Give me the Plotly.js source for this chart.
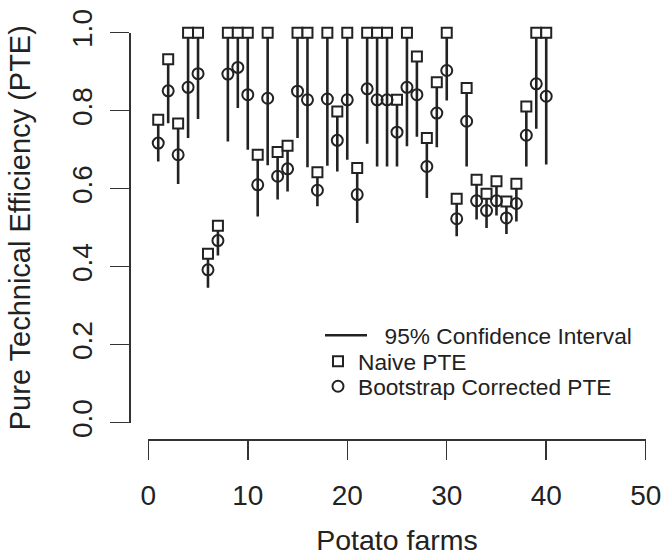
<!DOCTYPE html>
<html>
<head>
<meta charset="utf-8">
<script src="https://cdn.plot.ly/plotly-3.0.1.min.js"></script>
<style>html,body{margin:0;padding:0;background:#fff;}#chart{width:662px;height:556px;}</style>
</head>
<body>
<div id="chart"></div>
<script>
// ---- data ----
var farms = [1,2,3,4,5,6,7,8,9,10,11,12,13,14,15,16,17,18,19,20,21,22,23,24,25,26,27,28,29,30,31,32,33,34,35,36,37,38,39,40];
var naivePTE = [0.777,0.932,0.767,1.000,1.000,0.433,0.505,1.000,1.000,1.000,0.687,1.000,0.694,0.710,1.000,1.000,0.642,1.000,0.798,1.000,0.653,1.000,1.000,1.000,0.828,1.000,0.939,0.730,0.873,1.000,0.574,0.858,0.623,0.587,0.619,0.567,0.613,0.811,1.000,1.000];
var bootPTE = [0.717,0.851,0.687,0.860,0.895,0.392,0.467,0.894,0.911,0.841,0.610,0.832,0.632,0.651,0.850,0.828,0.596,0.830,0.724,0.828,0.585,0.856,0.828,0.828,0.745,0.860,0.841,0.657,0.794,0.903,0.523,0.773,0.569,0.544,0.569,0.525,0.562,0.737,0.869,0.837];
var ciLower = [0.670,0.768,0.612,0.730,0.779,0.346,0.429,0.721,0.807,0.700,0.529,0.660,0.572,0.593,0.730,0.655,0.555,0.659,0.644,0.674,0.512,0.715,0.657,0.657,0.657,0.709,0.733,0.576,0.706,0.826,0.478,0.657,0.521,0.499,0.531,0.484,0.516,0.657,0.754,0.662];
var ciUpper = naivePTE;
var xTicks = [0,10,20,30,40,50];
var yTicks = [0,0.2,0.4,0.6,0.8,1.0];
var seriesNames = ['95% Confidence Interval', 'Naive PTE', 'Bootstrap Corrected PTE'];

// build vertical CI segments
var ciX = [], ciY = [];
for (var i = 0; i < farms.length; i++) {
  ciX.push(farms[i], farms[i], null);
  ciY.push(ciLower[i], ciUpper[i], null);
}

var ink = '#222';
var fontFam = '"Liberation Sans", Arial, sans-serif';
var pad = '\u00a0\u00a0';

var traces = [
  {x: ciX, y: ciY, type: 'scatter', mode: 'lines', name: pad + seriesNames[0], legend: 'legend',
   line: {color: ink, width: 2.6}, cliponaxis: false, hoverinfo: 'skip'},
  {x: farms, y: naivePTE, type: 'scatter', mode: 'markers', name: seriesNames[1], legend: 'legend2',
   marker: {symbol: 'square', size: 10, color: '#fff', line: {color: ink, width: 2}}, cliponaxis: false},
  {x: farms, y: bootPTE, type: 'scatter', mode: 'markers', name: seriesNames[2], legend: 'legend3',
   marker: {symbol: 'circle-open', size: 11, color: ink, line: {color: ink, width: 2}}, cliponaxis: false}
];

var axisCommon = {
  showgrid: false, zeroline: false, showline: true, linecolor: '#333', linewidth: 1.5,
  ticks: 'outside', ticklen: 19, tickwidth: 1.5, tickcolor: '#333',
  tickfont: {family: fontFam, size: 28, color: ink}, fixedrange: true
};

function legendAt(xLeft, yTop, itemW) {
  return {x: xLeft/662, y: yTop, xanchor: 'left', yanchor: 'top', bgcolor: 'rgba(0,0,0,0)',
          font: {family: fontFam, size: 22.7, color: ink}, itemwidth: itemW};
}

var layout = {
  width: 662, height: 556,
  margin: {l: 0, r: 0, t: 0, b: 0},
  paper_bgcolor: '#fff', plot_bgcolor: '#fff',
  font: {family: fontFam, color: ink},
  showlegend: true,
  legend: legendAt(320, 0.4353, 42),
  legend2: legendAt(318, 0.3885, 30),
  legend3: legendAt(318, 0.3435, 30),
  xaxis: Object.assign({}, axisCommon, {
    domain: [0.2240, 0.9754], anchor: 'free', position: 0.2104,
    range: [0, 50], tickvals: xTicks, ticktext: xTicks.map(String), ticklabelstandoff: 12,
    title: {text: 'Potato farms', font: {family: fontFam, size: 28.5, color: ink}, standoff: 29}
  }),
  yaxis: Object.assign({}, axisCommon, {
    domain: [0.2397, 0.9412], anchor: 'free', position: 0.1949,
    range: [0, 1], tickvals: yTicks, ticktext: yTicks.map(function(v){return v.toFixed(1);}),
    tickangle: -90, ticklabelstandoff: 7,
    title: {text: 'Pure Technical Efficiency (PTE)', font: {family: fontFam, size: 29, color: ink}, standoff: 26}
  })
};

Plotly.newPlot('chart', traces, layout, {displayModeBar: false, staticPlot: true});
</script>
</body>
</html>
